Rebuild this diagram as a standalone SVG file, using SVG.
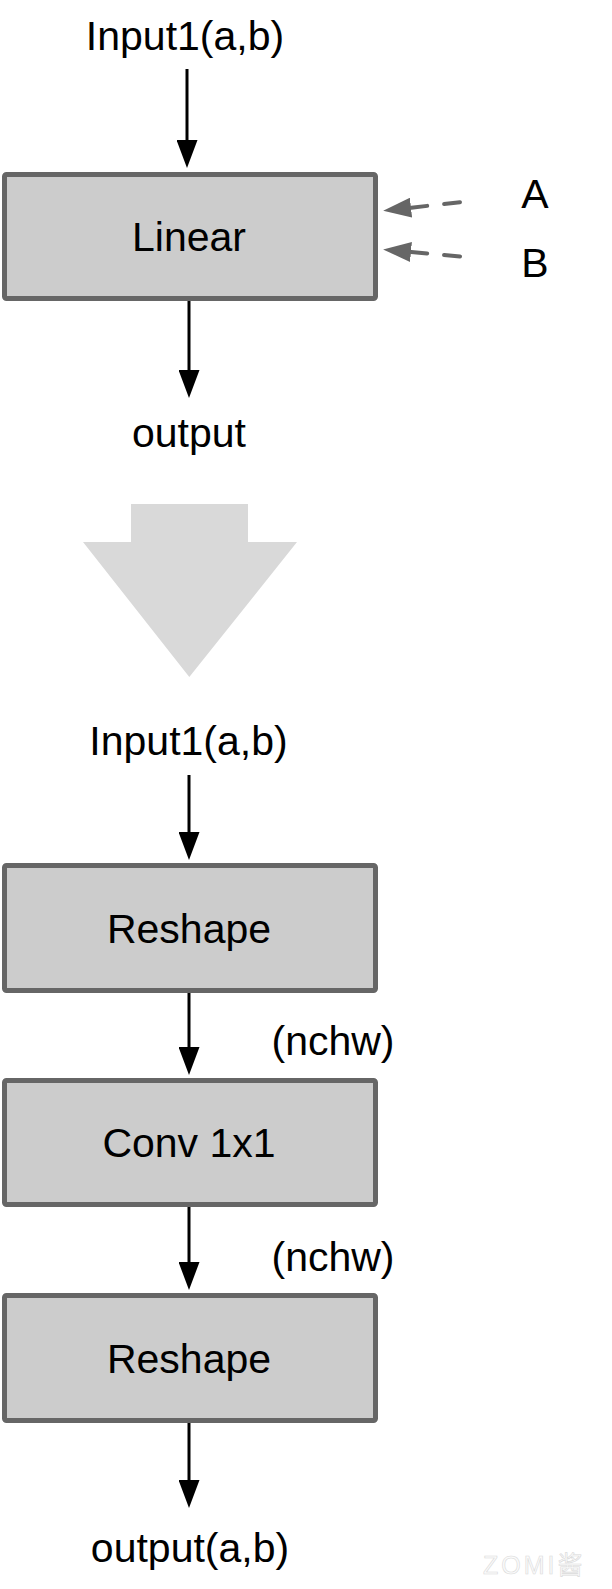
<svg xmlns="http://www.w3.org/2000/svg" width="612" height="1589" viewBox="0 0 612 1589">
  <style>
    .lbl { font-family: "Liberation Sans", Arial, Helvetica, sans-serif; font-size: 41px; fill: #000; text-anchor: middle; }
    .box { fill: #cccccc; stroke: #666666; stroke-width: 5; }
    .edge { stroke: #000; stroke-width: 3; fill: none; }
    .dash { stroke: #666666; stroke-width: 4; fill: none; stroke-dasharray: 16 17; stroke-linecap: round; }
    .wm { font-family: "Liberation Sans", "Noto Sans CJK SC", sans-serif; font-size: 25px; fill: #fbfbfb; stroke: #dadada; stroke-width: 0.6; letter-spacing: 3px; }
  </style>
  <defs>
    <marker id="ah" viewBox="0 0 28 21" markerWidth="28" markerHeight="21" markerUnits="userSpaceOnUse" refX="1" refY="10.5" orient="auto">
      <path d="M0,0 L28,10.5 L0,21 z" fill="#000"/>
    </marker>
    <marker id="ahg" viewBox="0 0 28 20" markerWidth="28" markerHeight="20" markerUnits="userSpaceOnUse" refX="1" refY="10" orient="auto">
      <path d="M0,0 L28,10 L0,20 z" fill="#666666"/>
    </marker>
  </defs>
  <rect width="612" height="1589" fill="#ffffff"/>

  <g id="transform-arrow">
    <polygon points="131,504 248,504 248,542 297,542 189.3,677 83,542 131,542" fill="#d9d9d9"/>
  </g>

  <g id="connectors">
    <line class="edge" x1="187" y1="69" x2="187" y2="141" marker-end="url(#ah)"/>
    <line class="edge" x1="189" y1="301" x2="189" y2="371" marker-end="url(#ah)"/>
    <line class="dash" x1="460" y1="202.2" x2="410" y2="207.8" marker-end="url(#ahg)"/>
    <line class="dash" x1="460" y1="256.5" x2="410" y2="251.9" marker-end="url(#ahg)"/>
    <line class="edge" x1="189" y1="775" x2="189" y2="833" marker-end="url(#ah)"/>
    <line class="edge" x1="189" y1="993" x2="189" y2="1048" marker-end="url(#ah)"/>
    <line class="edge" x1="189" y1="1207" x2="189" y2="1263" marker-end="url(#ah)"/>
    <line class="edge" x1="189" y1="1423" x2="189" y2="1481" marker-end="url(#ah)"/>
  </g>

  <g id="input1-top"><text class="lbl" x="185" y="50">Input1(a,b)</text></g>
  <g id="linear">
    <rect class="box" x="4.5" y="174.5" width="371" height="124" rx="2"/>
    <text class="lbl" x="189" y="251">Linear</text>
  </g>
  <g id="label-A"><text class="lbl" x="535" y="208">A</text></g>
  <g id="label-B"><text class="lbl" x="535" y="277">B</text></g>
  <g id="output-top"><text class="lbl" x="189" y="447">output</text></g>

  <g id="input1-bottom"><text class="lbl" x="188.5" y="755">Input1(a,b)</text></g>
  <g id="reshape1">
    <rect class="box" x="4.5" y="865.5" width="371" height="125" rx="2"/>
    <text class="lbl" x="189" y="943">Reshape</text>
  </g>
  <g id="nchw1"><text class="lbl" x="333" y="1055">(nchw)</text></g>
  <g id="conv">
    <rect class="box" x="4.5" y="1080.5" width="371" height="124" rx="2"/>
    <text class="lbl" x="189" y="1157">Conv 1x1</text>
  </g>
  <g id="nchw2"><text class="lbl" x="333" y="1271">(nchw)</text></g>
  <g id="reshape2">
    <rect class="box" x="4.5" y="1295.5" width="371" height="125" rx="2"/>
    <text class="lbl" x="189" y="1373">Reshape</text>
  </g>
  <g id="output-bottom"><text class="lbl" x="190" y="1562">output(a,b)</text></g>

  <g id="watermark"><text class="wm" x="483" y="1574">ZOMI酱</text></g>
</svg>
